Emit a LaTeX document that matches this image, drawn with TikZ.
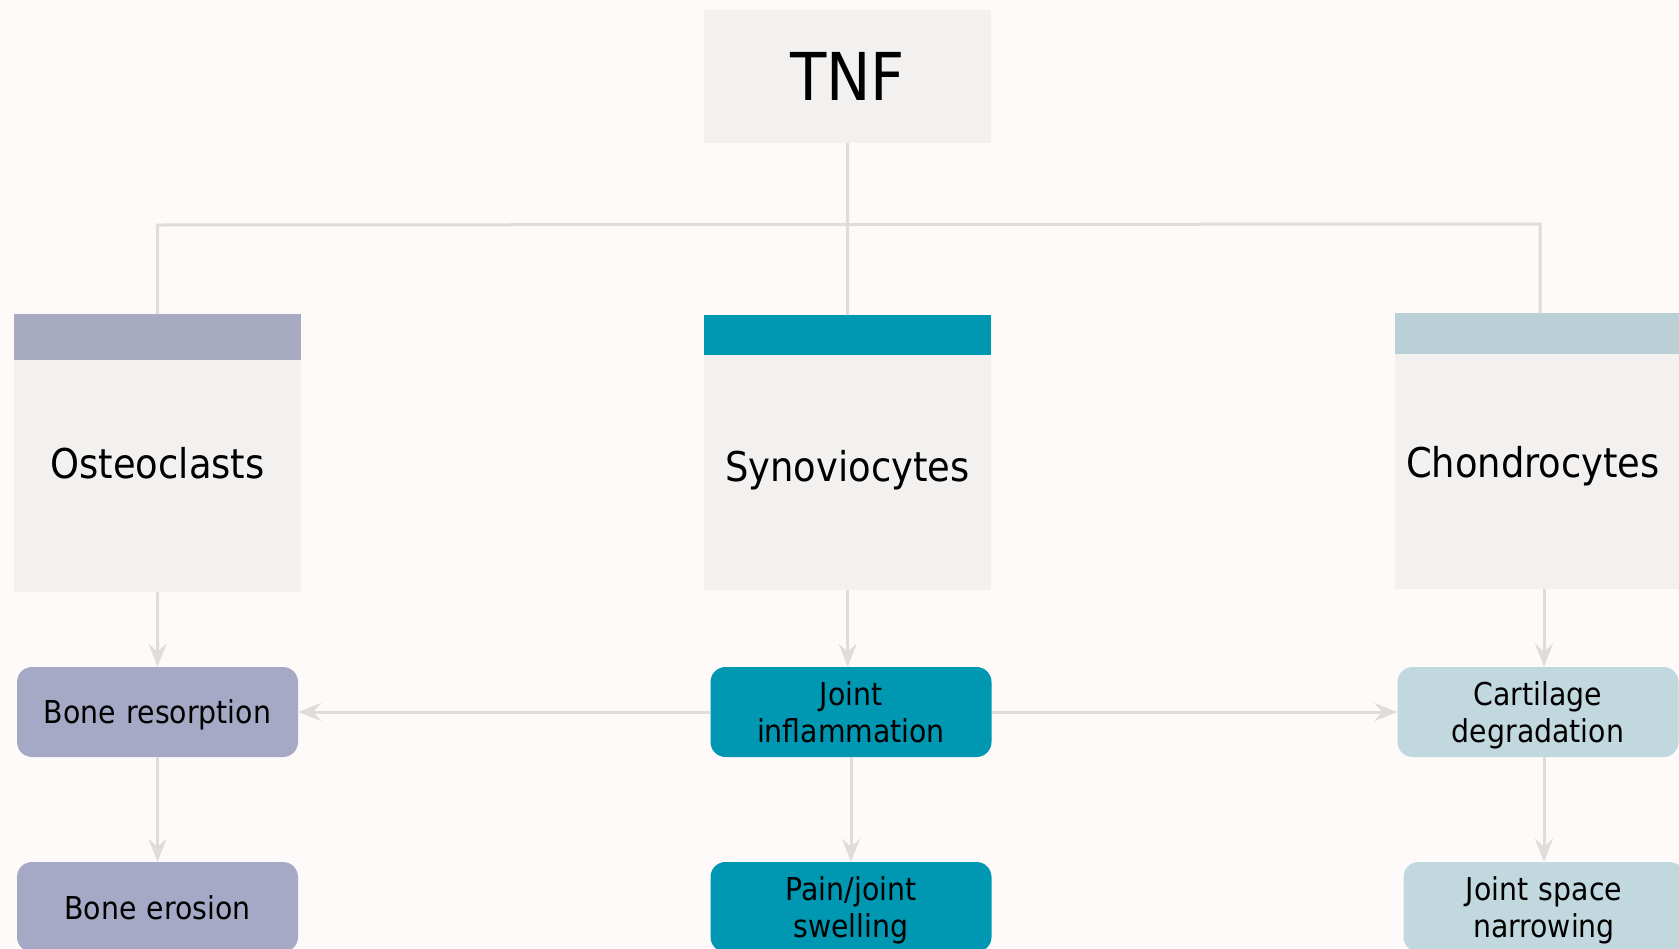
\documentclass[tikz,border=0pt]{standalone}
\usepackage{fontspec}
\setmainfont{DejaVu Sans Condensed}
\usetikzlibrary{arrows.meta}
\definecolor{bg}{HTML}{FDFAF9}
\definecolor{boxgray}{HTML}{F3F1F0}
\definecolor{osteoHead}{HTML}{A8AAC2}
\definecolor{osteoBox}{HTML}{A5A9C5}
\definecolor{tealc}{HTML}{0097B2}
\definecolor{chonHead}{HTML}{BBCFD6}
\definecolor{chonBox}{HTML}{C2D8DF}
\definecolor{linec}{HTML}{E0DCDC}
\newcommand\topfix[1]{\rule{0pt}{#1pt}}
\begin{document}
\begin{tikzpicture}[x=1pt,y=-1pt,
  cellbox/.style={fill=boxgray, minimum width=287pt, inner sep=0pt, anchor=north west},
  celltext/.style={font=\fontsize{41}{46}\selectfont, text=black, inner sep=0pt},
  flowbox/.style={rounded corners=15pt, minimum width=281pt, minimum height=90pt, inner sep=0pt,
     text width=281pt, align=center, font=\fontsize{31.5}{37}\selectfont, text=black},
  conn/.style={draw=linec, line width=3pt},
  arr/.style={draw=linec, line width=3pt, -{Stealth[length=23pt,width=18pt,inset=8pt,fill=linec]}}]
\fill[bg] (0,0) rectangle (1679,948);
\useasboundingbox (0,0) rectangle (1679,948);

% TNF
\node[fill=boxgray, minimum width=287pt, minimum height=133pt, inner sep=0pt,
      font=\fontsize{66}{76}\selectfont] (tnf) at (847.5,76.5) {TNF};

% cell boxes
\node[cellbox, minimum height=278pt] (osteo) at (14,314) {};
\fill[osteoHead] (osteo.north west) rectangle ++(287,46);
\node[celltext] (osteoT) at (157.5,463) {Osteoclasts};

\node[cellbox, minimum height=275pt] (syn) at (704,315) {};
\fill[tealc] (syn.north west) rectangle ++(287,40);
\node[celltext] (synT) at (847.5,470) {Synoviocytes};

\node[cellbox, minimum height=276pt] (chon) at (1395,313) {};
\fill[chonHead] (chon.north west) rectangle ++(287,41);
\node[celltext] (chonT) at (1533,466) {Chondrocytes};

% flow boxes
\node[flowbox, fill=osteoBox] (br) at (157.5,712) {\topfix{30}Bone resorption};
\node[flowbox, fill=osteoBox] (be) at (157.5,907) {\topfix{26}Bone erosion};
\node[flowbox, fill=tealc] (ji) at (851,712) {\topfix{25}Joint\\inflammation};
\node[flowbox, fill=tealc] (pj) at (851,907) {\topfix{30}Pain/joint\\swelling};
\node[flowbox, fill=chonBox] (cd) at (1538,712) {\topfix{31}Cartilage\\degradation};
\node[flowbox, fill=chonBox] (jsn) at (1544,907) {\topfix{30}Joint space\\narrowing};

% bus
\coordinate (busL) at (157.5,225);
\coordinate (busR) at (1540,224);
\draw[conn] (tnf.south) -- (syn.north);
\draw[conn] (osteo.north) -- (busL) -- (busR) -- (busR |- chon.north);

% arrows
\draw[arr] (osteo.south) -- (br.north);
\draw[arr] (br.south) -- (be.north);
\draw[arr] (syn.south) -- (syn.south |- ji.north);
\draw[arr] (ji.south) -- (pj.north);
\draw[arr] (ji.west) -- (br.east);
\draw[arr] (ji.east) -- (cd.west);
\draw[arr] (jsn.north |- chon.south) -- (jsn.north |- cd.north);
\draw[arr] (jsn.north |- cd.south) -- (jsn.north);
\end{tikzpicture}
\end{document}
